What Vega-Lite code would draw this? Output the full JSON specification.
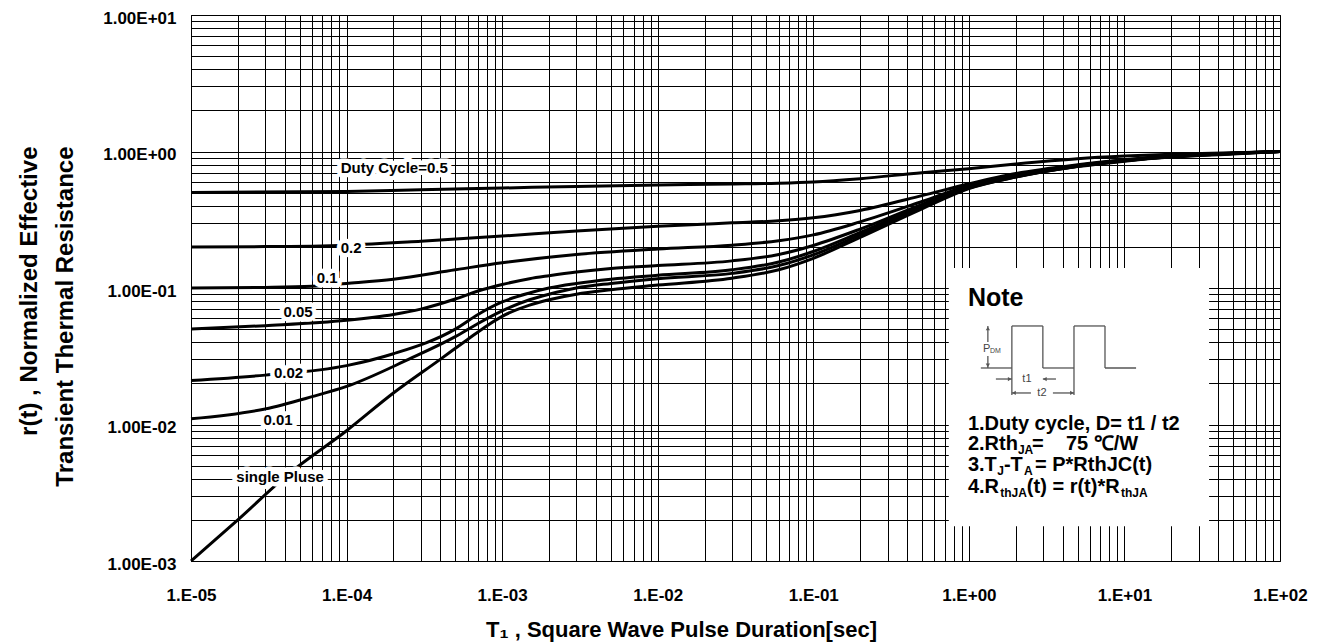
{
  "$schema": "https://vega.github.io/schema/vega-lite/v6.json",
  "width": 1089,
  "height": 546,
  "autosize": {"type": "none"},
  "padding": {"left": 191, "top": 15, "right": 42, "bottom": 81},
  "background": "white",
  "config": {
    "view": {"stroke": "#000", "strokeWidth": 1},
    "font": "Liberation Sans",
    "text": {"font": "Liberation Sans", "fontWeight": "bold", "color": "#000"}
  },
  "datasets": {
    "curves": [
      {"series": "0.5", "t": 0.00001, "r": 0.50}, {"series": "0.5", "t": 0.0001, "r": 0.51}, {"series": "0.5", "t": 0.0003, "r": 0.525}, {"series": "0.5", "t": 0.001, "r": 0.54}, {"series": "0.5", "t": 0.003, "r": 0.555}, {"series": "0.5", "t": 0.01, "r": 0.568}, {"series": "0.5", "t": 0.03, "r": 0.578}, {"series": "0.5", "t": 0.06, "r": 0.586}, {"series": "0.5", "t": 0.1, "r": 0.598}, {"series": "0.5", "t": 0.2, "r": 0.632}, {"series": "0.5", "t": 0.5, "r": 0.70}, {"series": "0.5", "t": 1, "r": 0.748}, {"series": "0.5", "t": 2, "r": 0.81}, {"series": "0.5", "t": 5, "r": 0.885}, {"series": "0.5", "t": 10, "r": 0.925}, {"series": "0.5", "t": 20, "r": 0.955}, {"series": "0.5", "t": 50, "r": 0.98}, {"series": "0.5", "t": 100, "r": 1.0},
      {"series": "0.2", "t": 0.00001, "r": 0.200}, {"series": "0.2", "t": 0.00003, "r": 0.201}, {"series": "0.2", "t": 0.0001, "r": 0.206}, {"series": "0.2", "t": 0.0003, "r": 0.22}, {"series": "0.2", "t": 0.001, "r": 0.24}, {"series": "0.2", "t": 0.003, "r": 0.262}, {"series": "0.2", "t": 0.01, "r": 0.283}, {"series": "0.2", "t": 0.03, "r": 0.30}, {"series": "0.2", "t": 0.06, "r": 0.311}, {"series": "0.2", "t": 0.1, "r": 0.327}, {"series": "0.2", "t": 0.2, "r": 0.37}, {"series": "0.2", "t": 0.5, "r": 0.475}, {"series": "0.2", "t": 1, "r": 0.58}, {"series": "0.2", "t": 2, "r": 0.69}, {"series": "0.2", "t": 5, "r": 0.80}, {"series": "0.2", "t": 10, "r": 0.87}, {"series": "0.2", "t": 20, "r": 0.93}, {"series": "0.2", "t": 50, "r": 0.975}, {"series": "0.2", "t": 100, "r": 1.0},
      {"series": "0.1", "t": 0.00001, "r": 0.100}, {"series": "0.1", "t": 0.00003, "r": 0.101}, {"series": "0.1", "t": 0.00006, "r": 0.103}, {"series": "0.1", "t": 0.0001, "r": 0.108}, {"series": "0.1", "t": 0.0002, "r": 0.116}, {"series": "0.1", "t": 0.0005, "r": 0.136}, {"series": "0.1", "t": 0.001, "r": 0.153}, {"series": "0.1", "t": 0.003, "r": 0.176}, {"series": "0.1", "t": 0.01, "r": 0.193}, {"series": "0.1", "t": 0.03, "r": 0.206}, {"series": "0.1", "t": 0.06, "r": 0.222}, {"series": "0.1", "t": 0.1, "r": 0.245}, {"series": "0.1", "t": 0.2, "r": 0.305}, {"series": "0.1", "t": 0.5, "r": 0.43}, {"series": "0.1", "t": 1, "r": 0.565}, {"series": "0.1", "t": 2, "r": 0.67}, {"series": "0.1", "t": 5, "r": 0.79}, {"series": "0.1", "t": 10, "r": 0.865}, {"series": "0.1", "t": 20, "r": 0.925}, {"series": "0.1", "t": 50, "r": 0.97}, {"series": "0.1", "t": 100, "r": 1.0},
      {"series": "0.05", "t": 0.00001, "r": 0.050}, {"series": "0.05", "t": 0.00003, "r": 0.053}, {"series": "0.05", "t": 0.0001, "r": 0.058}, {"series": "0.05", "t": 0.0002, "r": 0.064}, {"series": "0.05", "t": 0.0003, "r": 0.070}, {"series": "0.05", "t": 0.0005, "r": 0.083}, {"series": "0.05", "t": 0.0007, "r": 0.095}, {"series": "0.05", "t": 0.001, "r": 0.106}, {"series": "0.05", "t": 0.0015, "r": 0.117}, {"series": "0.05", "t": 0.002, "r": 0.123}, {"series": "0.05", "t": 0.003, "r": 0.131}, {"series": "0.05", "t": 0.005, "r": 0.139}, {"series": "0.05", "t": 0.01, "r": 0.146}, {"series": "0.05", "t": 0.03, "r": 0.158}, {"series": "0.05", "t": 0.06, "r": 0.176}, {"series": "0.05", "t": 0.1, "r": 0.205}, {"series": "0.05", "t": 0.2, "r": 0.27}, {"series": "0.05", "t": 0.5, "r": 0.41}, {"series": "0.05", "t": 1, "r": 0.55}, {"series": "0.05", "t": 2, "r": 0.66}, {"series": "0.05", "t": 5, "r": 0.785}, {"series": "0.05", "t": 10, "r": 0.86}, {"series": "0.05", "t": 20, "r": 0.92}, {"series": "0.05", "t": 50, "r": 0.97}, {"series": "0.05", "t": 100, "r": 1.0},
      {"series": "0.02", "t": 0.00001, "r": 0.021}, {"series": "0.02", "t": 0.00003, "r": 0.023}, {"series": "0.02", "t": 0.0001, "r": 0.027}, {"series": "0.02", "t": 0.0002, "r": 0.033}, {"series": "0.02", "t": 0.0005, "r": 0.050}, {"series": "0.02", "t": 0.0007, "r": 0.064}, {"series": "0.02", "t": 0.001, "r": 0.079}, {"series": "0.02", "t": 0.0015, "r": 0.092}, {"series": "0.02", "t": 0.002, "r": 0.100}, {"series": "0.02", "t": 0.003, "r": 0.108}, {"series": "0.02", "t": 0.005, "r": 0.116}, {"series": "0.02", "t": 0.01, "r": 0.124}, {"series": "0.02", "t": 0.03, "r": 0.136}, {"series": "0.02", "t": 0.06, "r": 0.155}, {"series": "0.02", "t": 0.1, "r": 0.185}, {"series": "0.02", "t": 0.2, "r": 0.255}, {"series": "0.02", "t": 0.5, "r": 0.40}, {"series": "0.02", "t": 1, "r": 0.545}, {"series": "0.02", "t": 2, "r": 0.655}, {"series": "0.02", "t": 5, "r": 0.78}, {"series": "0.02", "t": 10, "r": 0.855}, {"series": "0.02", "t": 20, "r": 0.915}, {"series": "0.02", "t": 50, "r": 0.965}, {"series": "0.02", "t": 100, "r": 1.0},
      {"series": "0.01", "t": 0.00001, "r": 0.011}, {"series": "0.01", "t": 0.00003, "r": 0.013}, {"series": "0.01", "t": 0.00006, "r": 0.016}, {"series": "0.01", "t": 0.0001, "r": 0.019}, {"series": "0.01", "t": 0.00025, "r": 0.030}, {"series": "0.01", "t": 0.0005, "r": 0.044}, {"series": "0.01", "t": 0.0007, "r": 0.055}, {"series": "0.01", "t": 0.001, "r": 0.068}, {"series": "0.01", "t": 0.0015, "r": 0.082}, {"series": "0.01", "t": 0.002, "r": 0.090}, {"series": "0.01", "t": 0.003, "r": 0.100}, {"series": "0.01", "t": 0.005, "r": 0.108}, {"series": "0.01", "t": 0.01, "r": 0.117}, {"series": "0.01", "t": 0.03, "r": 0.128}, {"series": "0.01", "t": 0.06, "r": 0.146}, {"series": "0.01", "t": 0.1, "r": 0.175}, {"series": "0.01", "t": 0.2, "r": 0.245}, {"series": "0.01", "t": 0.5, "r": 0.39}, {"series": "0.01", "t": 1, "r": 0.54}, {"series": "0.01", "t": 2, "r": 0.65}, {"series": "0.01", "t": 5, "r": 0.78}, {"series": "0.01", "t": 10, "r": 0.855}, {"series": "0.01", "t": 20, "r": 0.915}, {"series": "0.01", "t": 50, "r": 0.965}, {"series": "0.01", "t": 100, "r": 1.0},
      {"series": "single", "t": 0.00001, "r": 0.001}, {"series": "single", "t": 0.00002, "r": 0.002}, {"series": "single", "t": 0.000043, "r": 0.0044}, {"series": "single", "t": 0.0001, "r": 0.009}, {"series": "single", "t": 0.0002, "r": 0.017}, {"series": "single", "t": 0.0004, "r": 0.030}, {"series": "single", "t": 0.0006, "r": 0.042}, {"series": "single", "t": 0.0008, "r": 0.053}, {"series": "single", "t": 0.001, "r": 0.062}, {"series": "single", "t": 0.0015, "r": 0.075}, {"series": "single", "t": 0.002, "r": 0.082}, {"series": "single", "t": 0.003, "r": 0.090}, {"series": "single", "t": 0.005, "r": 0.097}, {"series": "single", "t": 0.01, "r": 0.105}, {"series": "single", "t": 0.03, "r": 0.118}, {"series": "single", "t": 0.06, "r": 0.136}, {"series": "single", "t": 0.1, "r": 0.165}, {"series": "single", "t": 0.2, "r": 0.235}, {"series": "single", "t": 0.5, "r": 0.38}, {"series": "single", "t": 1, "r": 0.535}, {"series": "single", "t": 2, "r": 0.65}, {"series": "single", "t": 5, "r": 0.775}, {"series": "single", "t": 10, "r": 0.85}, {"series": "single", "t": 20, "r": 0.91}, {"series": "single", "t": 50, "r": 0.96}, {"series": "single", "t": 100, "r": 1.0}
    ],
    "labels": [
      {"txt": "Duty Cycle=0.5", "t": 0.0002025, "r": 0.757},
      {"txt": "0.2", "t": 0.000107, "r": 0.1963},
      {"txt": "0.1", "t": 0.000075, "r": 0.1184},
      {"txt": "0.05", "t": 0.0000488, "r": 0.0667},
      {"txt": "0.02", "t": 0.0000424, "r": 0.02384},
      {"txt": "0.01", "t": 0.0000363, "r": 0.01079},
      {"txt": "single Pluse", "t": 0.0000374, "r": 0.004124}
    ],
    "box": [{"t": 0.743, "t2": 35, "r": 0.140, "r2": 0.0018}],
    "noteText": [
      {"txt": "Note", "t": 0.986, "r": 0.0738, "kind": "title"},
      {"txt": "1.Duty cycle, D= t1 / t2", "t": 0.986, "r": 0.00912, "kind": "main"},
      {"txt": "2.Rth", "t": 0.986, "r": 0.0065, "kind": "main"},
      {"txt": "JA", "t": 2.067, "r": 0.0065, "kind": "sub"},
      {"txt": "\u00a0\u00a0=\u00a0\u00a0\u00a0\u00a075 ℃/W", "t": 2.547, "r": 0.0065, "kind": "main"},
      {"txt": "3.T", "t": 0.986, "r": 0.00456, "kind": "main"},
      {"txt": "J", "t": 1.52, "r": 0.00456, "kind": "sub"},
      {"txt": "-T", "t": 1.68, "r": 0.00456, "kind": "main"},
      {"txt": "A", "t": 2.26, "r": 0.00456, "kind": "sub"},
      {"txt": "\u00a0= P*RthJC(t)", "t": 2.66, "r": 0.00456, "kind": "main"},
      {"txt": "4.R", "t": 0.986, "r": 0.00315, "kind": "main"},
      {"txt": "thJA", "t": 1.59, "r": 0.00315, "kind": "sub"},
      {"txt": "(t) = r(t)*R", "t": 2.36, "r": 0.00315, "kind": "main"},
      {"txt": "thJA", "t": 9.5, "r": 0.00315, "kind": "sub"}
    ],
    "diagram": [
      {"t": 1.194, "t2": 1.89, "r": 0.02594, "r2": 0.02594},
      {"t": 1.89, "t2": 1.89, "r": 0.02594, "r2": 0.0527},
      {"t": 1.89, "t2": 2.99, "r": 0.0527, "r2": 0.0527},
      {"t": 2.99, "t2": 2.99, "r": 0.0527, "r2": 0.02594},
      {"t": 2.99, "t2": 4.74, "r": 0.02594, "r2": 0.02594},
      {"t": 4.74, "t2": 4.74, "r": 0.02594, "r2": 0.0527},
      {"t": 4.74, "t2": 7.5, "r": 0.0527, "r2": 0.0527},
      {"t": 7.5, "t2": 7.5, "r": 0.0527, "r2": 0.02594},
      {"t": 7.5, "t2": 11.88, "r": 0.02594, "r2": 0.02594},
      {"t": 1.89, "t2": 1.89, "r": 0.02594, "r2": 0.01644},
      {"t": 4.74, "t2": 4.74, "r": 0.02594, "r2": 0.01644},
      {"t": 1.325, "t2": 1.325, "r": 0.0527, "r2": 0.0402},
      {"t": 1.325, "t2": 1.325, "r": 0.0318, "r2": 0.02594},
      {"t": 1.492, "t2": 1.89, "r": 0.02154, "r2": 0.02154},
      {"t": 2.99, "t2": 3.63, "r": 0.02154, "r2": 0.02154},
      {"t": 1.89, "t2": 2.506, "r": 0.01702, "r2": 0.01702},
      {"t": 3.47, "t2": 4.74, "r": 0.01702, "r2": 0.01702}
    ],
    "arrows": [
      {"t": 1.83, "r": 0.02154, "dir": "right"},
      {"t": 3.08, "r": 0.02154, "dir": "left"},
      {"t": 1.95, "r": 0.01702, "dir": "left"},
      {"t": 4.6, "r": 0.01702, "dir": "right"},
      {"t": 1.325, "r": 0.0505, "dir": "up"},
      {"t": 1.325, "r": 0.0271, "dir": "down"}
    ],
    "diagLabels": [
      {"txt": "P", "t": 1.231, "r": 0.0338, "kind": "big"},
      {"txt": "DM", "t": 1.365, "r": 0.0338, "kind": "small"},
      {"txt": "t1", "t": 2.362, "r": 0.02154, "kind": "mid"},
      {"txt": "t2", "t": 2.95, "r": 0.01702, "kind": "mid"}
    ]
  },
  "layer": [
    {
      "data": {"name": "curves"},
      "mark": {"type": "line", "color": "#000", "strokeWidth": 3, "interpolate": "monotone"},
      "encoding": {
        "x": {
          "field": "t", "type": "quantitative",
          "scale": {"type": "log", "domain": [0.00001, 100], "nice": false, "zero": false},
          "axis": {
            "values": [0.00001, 0.00002, 0.00003, 0.00004, 0.00005, 0.00006, 0.00007, 0.00008, 0.00009, 0.0001, 0.0002, 0.0003, 0.0004, 0.0005, 0.0006, 0.0007, 0.0008, 0.0009, 0.001, 0.002, 0.003, 0.004, 0.005, 0.006, 0.007, 0.008, 0.009, 0.01, 0.02, 0.03, 0.04, 0.05, 0.06, 0.07, 0.08, 0.09, 0.1, 0.2, 0.3, 0.4, 0.5, 0.6, 0.7, 0.8, 0.9, 1, 2, 3, 4, 5, 6, 7, 8, 9, 10, 20, 30, 40, 50, 60, 70, 80, 90, 100],
            "labelExpr": "abs(log(datum.value)/LN10 - round(log(datum.value)/LN10)) < 0.01 ? '1.E' + (round(log(datum.value)/LN10) < 0 ? '-' : '+') + '0' + abs(round(log(datum.value)/LN10)) : ''",
            "grid": true, "gridColor": "#000", "gridWidth": 1, "gridOpacity": 1,
            "tickSize": 0, "domain": false,
            "labelOverlap": false, "labelFlush": false, "labelBound": false,
            "labelFont": "Liberation Sans", "labelFontWeight": "bold", "labelFontSize": 17, "labelColor": "#000",
            "labelPadding": 26,
            "title": "T₁ , Square Wave Pulse Duration[sec]",
            "titleFont": "Liberation Sans", "titleFontWeight": "bold", "titleFontSize": 22, "titleColor": "#000",
            "titleX": 490, "titleY": 75, "titleAlign": "center", "titleBaseline": "alphabetic", "titleAnchor": null
          }
        },
        "y": {
          "field": "r", "type": "quantitative",
          "scale": {"type": "log", "domain": [0.001, 10], "nice": false, "zero": false},
          "axis": {
            "values": [0.001, 0.002, 0.003, 0.004, 0.005, 0.006, 0.007, 0.008, 0.009, 0.01, 0.02, 0.03, 0.04, 0.05, 0.06, 0.07, 0.08, 0.09, 0.1, 0.2, 0.3, 0.4, 0.5, 0.6, 0.7, 0.8, 0.9, 1, 2, 3, 4, 5, 6, 7, 8, 9, 10],
            "labelExpr": "abs(log(datum.value)/LN10 - round(log(datum.value)/LN10)) < 0.01 ? '1.00E' + (round(log(datum.value)/LN10) < 0 ? '-' : '+') + '0' + abs(round(log(datum.value)/LN10)) : ''",
            "grid": true, "gridColor": "#000", "gridWidth": 1, "gridOpacity": 1,
            "tickSize": 0, "domain": false,
            "labelOverlap": false, "labelFlush": false, "labelBound": false,
            "labelFont": "Liberation Sans", "labelFontWeight": "bold", "labelFontSize": 17, "labelColor": "#000",
            "labelPadding": 15, "labelOffset": 3,
            "title": ["r(t) , Normalized Effective", "Transient Thermal Resistance"],
            "titleFont": "Liberation Sans", "titleFontWeight": "bold", "titleFontSize": 24, "titleColor": "#000",
            "titleAngle": 270, "titleX": -155, "titleY": 131, "titleAlign": "right", "titleBaseline": "alphabetic",
            "titleLineHeight": 36, "titleAnchor": null
          }
        },
        "detail": {"field": "series", "type": "nominal"}
      }
    },
    {
      "data": {"name": "box"},
      "mark": {"type": "rect", "color": "white", "opacity": 1},
      "encoding": {
        "x": {"field": "t", "type": "quantitative"},
        "x2": {"field": "t2"},
        "y": {"field": "r", "type": "quantitative"},
        "y2": {"field": "r2"}
      }
    },
    {
      "data": {"name": "labels"},
      "mark": {"type": "text", "fontSize": 15, "fontWeight": "bold", "font": "Liberation Sans", "baseline": "middle", "align": "center", "stroke": "white", "strokeWidth": 9, "strokeJoin": "round", "fill": "white"},
      "encoding": {
        "x": {"field": "t", "type": "quantitative"},
        "y": {"field": "r", "type": "quantitative"},
        "text": {"field": "txt"}
      }
    },
    {
      "data": {"name": "labels"},
      "mark": {"type": "text", "fontSize": 15, "fontWeight": "bold", "font": "Liberation Sans", "baseline": "middle", "align": "center", "fill": "#000"},
      "encoding": {
        "x": {"field": "t", "type": "quantitative"},
        "y": {"field": "r", "type": "quantitative"},
        "text": {"field": "txt"}
      }
    },
    {
      "data": {"name": "diagram"},
      "mark": {"type": "rule", "color": "#555", "strokeWidth": 1.3},
      "encoding": {
        "x": {"field": "t", "type": "quantitative"},
        "x2": {"field": "t2"},
        "y": {"field": "r", "type": "quantitative"},
        "y2": {"field": "r2"}
      }
    },
    {
      "data": {"name": "arrows"},
      "mark": {"type": "point", "filled": true, "color": "#555", "size": 18, "opacity": 1},
      "encoding": {
        "x": {"field": "t", "type": "quantitative"},
        "y": {"field": "r", "type": "quantitative"},
        "shape": {"field": "dir", "type": "nominal", "scale": {"domain": ["right", "left", "up", "down"], "range": ["triangle-right", "triangle-left", "triangle-up", "triangle-down"]}, "legend": null}
      }
    },
    {
      "data": {"name": "diagLabels"},
      "transform": [{"filter": "datum.kind === 'big'"}],
      "mark": {"type": "text", "fontSize": 11, "fontWeight": "normal", "font": "Liberation Sans", "baseline": "alphabetic", "align": "left", "fill": "#444"},
      "encoding": {
        "x": {"field": "t", "type": "quantitative"},
        "y": {"field": "r", "type": "quantitative"},
        "text": {"field": "txt"}
      }
    },
    {
      "data": {"name": "diagLabels"},
      "transform": [{"filter": "datum.kind === 'small'"}],
      "mark": {"type": "text", "fontSize": 7, "fontWeight": "normal", "font": "Liberation Sans", "baseline": "alphabetic", "align": "left", "fill": "#444", "dy": 1},
      "encoding": {
        "x": {"field": "t", "type": "quantitative"},
        "y": {"field": "r", "type": "quantitative"},
        "text": {"field": "txt"}
      }
    },
    {
      "data": {"name": "diagLabels"},
      "transform": [{"filter": "datum.kind === 'mid'"}],
      "mark": {"type": "text", "fontSize": 11, "fontWeight": "normal", "font": "Liberation Sans", "baseline": "middle", "align": "center", "fill": "#444"},
      "encoding": {
        "x": {"field": "t", "type": "quantitative"},
        "y": {"field": "r", "type": "quantitative"},
        "text": {"field": "txt"}
      }
    },
    {
      "data": {"name": "noteText"},
      "transform": [{"filter": "datum.kind === 'title'"}],
      "mark": {"type": "text", "fontSize": 25, "fontWeight": "bold", "font": "Liberation Sans", "baseline": "alphabetic", "align": "left", "fill": "#000"},
      "encoding": {
        "x": {"field": "t", "type": "quantitative"},
        "y": {"field": "r", "type": "quantitative"},
        "text": {"field": "txt"}
      }
    },
    {
      "data": {"name": "noteText"},
      "transform": [{"filter": "datum.kind === 'main'"}],
      "mark": {"type": "text", "fontSize": 20, "fontWeight": "bold", "font": "Liberation Sans", "baseline": "alphabetic", "align": "left", "fill": "#000"},
      "encoding": {
        "x": {"field": "t", "type": "quantitative"},
        "y": {"field": "r", "type": "quantitative"},
        "text": {"field": "txt"}
      }
    },
    {
      "data": {"name": "noteText"},
      "transform": [{"filter": "datum.kind === 'sub'"}],
      "mark": {"type": "text", "fontSize": 12, "fontWeight": "bold", "font": "Liberation Sans", "baseline": "alphabetic", "align": "left", "fill": "#000", "dy": 4},
      "encoding": {
        "x": {"field": "t", "type": "quantitative"},
        "y": {"field": "r", "type": "quantitative"},
        "text": {"field": "txt"}
      }
    }
  ]
}
